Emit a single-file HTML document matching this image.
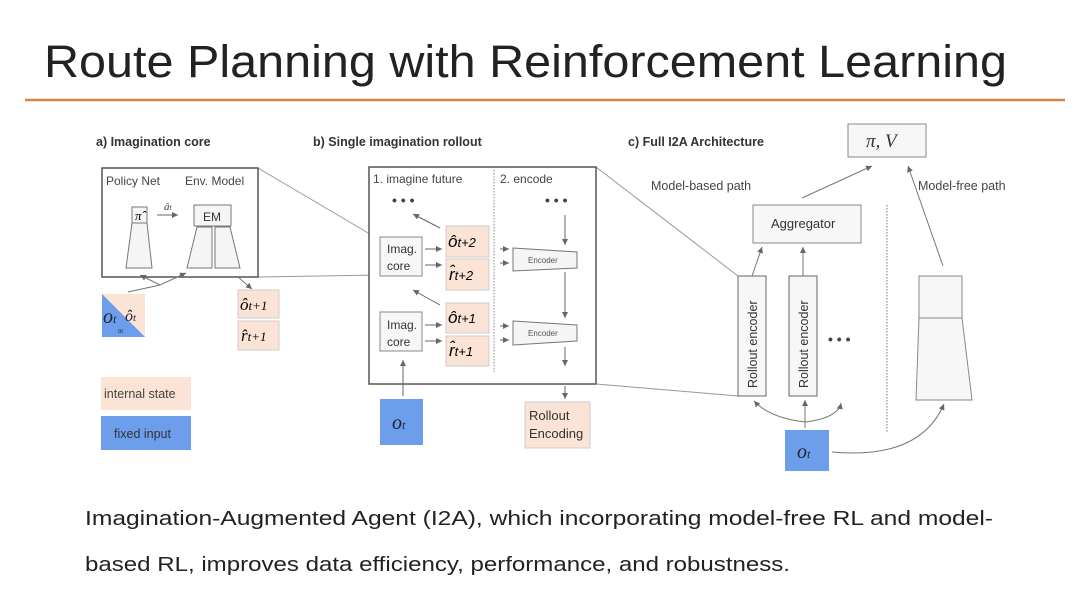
<!DOCTYPE html>
<html><head><meta charset="utf-8"><style>
body{margin:0;background:#fff;}
svg text{font-family:"Liberation Sans",sans-serif;}
.m{font-family:"Liberation Serif",serif;font-style:italic;}
</style></head><body>
<svg width="1080" height="607" viewBox="0 0 1080 607" xmlns="http://www.w3.org/2000/svg">
<defs>
<marker id="ar" markerWidth="8" markerHeight="8" refX="6" refY="3" orient="auto" markerUnits="userSpaceOnUse"><path d="M0,0 L6,3 L0,6z" fill="#666"/></marker>
</defs>
<rect width="1080" height="607" fill="#fff"/>
<text x="44" y="77" font-size="45" fill="#222" textLength="963" lengthAdjust="spacingAndGlyphs">Route Planning with Reinforcement Learning</text>
<line x1="25" y1="100" x2="1065" y2="100" stroke="#d9823f" stroke-width="2.5"/>

<g fill="#333" font-size="12.5" font-weight="bold">
<text x="96" y="146">a) Imagination core</text>
<text x="313" y="146">b) Single imagination rollout</text>
<text x="628" y="146">c) Full I2A Architecture</text>
</g>

<line x1="258" y1="168" x2="380" y2="240" stroke="#999" stroke-width="1"/>
<line x1="258" y1="277" x2="380" y2="275" stroke="#999" stroke-width="1"/>
<line x1="596" y1="167" x2="738" y2="276" stroke="#999" stroke-width="1"/>
<line x1="596" y1="384" x2="738" y2="396" stroke="#999" stroke-width="1"/>

<!-- panel a -->
<rect x="102" y="168" width="156" height="109" fill="#fff" stroke="#555" stroke-width="1.5"/>
<text x="106" y="185" font-size="12" fill="#444">Policy Net</text>
<text x="185" y="185" font-size="12" fill="#444">Env. Model</text>
<rect x="132" y="207" width="15" height="16" fill="#f5f5f5" stroke="#777"/>
<text x="135" y="220" class="m" font-size="13">π̂</text>
<path d="M132,223 L147,223 L152,268 L126,268 Z" fill="#f5f5f5" stroke="#777"/>
<line x1="157" y1="215" x2="178" y2="215" stroke="#666" marker-end="url(#ar)"/>
<text x="164" y="210" class="m" font-size="11" fill="#444">â<tspan font-size="8">t</tspan></text>
<rect x="194" y="205" width="37" height="21" fill="#f5f5f5" stroke="#777"/>
<text x="203" y="221" font-size="12" fill="#333">EM</text>
<path d="M197,227 L212,227 L212,268 L187,268 Z" fill="#f5f5f5" stroke="#777"/>
<path d="M215,227 L230,227 L240,268 L215,268 Z" fill="#f5f5f5" stroke="#777"/>
<path d="M128,292 L160,285 L186,273" fill="none" stroke="#777" marker-end="url(#ar)"/>
<path d="M160,285 L140,275" fill="none" stroke="#777" marker-end="url(#ar)"/>
<line x1="238" y1="277" x2="252" y2="289" stroke="#777" marker-end="url(#ar)"/>
<path d="M102,294 L145,294 L145,337 L102,337Z" fill="#fbe3d5"/>
<path d="M102,294 L145,337 L102,337Z" fill="#6d9eeb"/>
<text x="103" y="323" class="m" font-size="20" fill="#223">o<tspan font-size="12">t</tspan></text>
<text x="125" y="321" class="m" font-size="16" fill="#223">ô<tspan font-size="11">t</tspan></text>
<text x="118" y="333" font-size="6" fill="#223">or</text>
<rect x="238" y="290" width="41" height="28" fill="#fbe3d5" stroke="#ccc"/>
<text x="240" y="310" class="m" font-size="17">ô<tspan font-size="13">t+1</tspan></text>
<rect x="238" y="321" width="41" height="29" fill="#fbe3d5" stroke="#ccc"/>
<text x="241" y="341" class="m" font-size="17">r̂<tspan font-size="13">t+1</tspan></text>
<rect x="101" y="377" width="90" height="33" fill="#fbe3d5"/>
<text x="104" y="398" font-size="12.5" fill="#444">internal state</text>
<rect x="101" y="416" width="90" height="34" fill="#6d9eeb"/>
<text x="114" y="438" font-size="12.5" fill="#333">fixed input</text>

<!-- panel b -->
<rect x="369" y="167" width="227" height="217" fill="#fff" stroke="#555" stroke-width="1.5"/>
<line x1="494" y1="170" x2="494" y2="372" stroke="#888" stroke-dasharray="1.5,1.5"/>
<text x="373" y="183" font-size="12" fill="#444">1. imagine future</text>
<text x="500" y="183" font-size="12" fill="#444">2. encode</text>
<text x="392" y="205" font-size="14" font-weight="bold" fill="#444">• • •</text>
<text x="545" y="205" font-size="14" font-weight="bold" fill="#444">• • •</text>
<g fill="#f7f7f7" stroke="#888">
<rect x="380" y="237" width="42" height="39"/>
<rect x="380" y="312" width="42" height="39"/>
</g>
<g font-size="12" fill="#333">
<text x="387" y="253">Imag.</text><text x="387" y="270">core</text>
<text x="387" y="329">Imag.</text><text x="387" y="346">core</text>
</g>
<g fill="#fbe3d5" stroke="#ccc">
<rect x="446" y="226" width="43" height="31"/>
<rect x="446" y="259" width="43" height="31"/>
<rect x="446" y="303" width="43" height="30"/>
<rect x="446" y="336" width="43" height="30"/>
</g>
<g class="m" font-size="17">
<text x="448" y="247">ô<tspan font-size="13">t+2</tspan></text>
<text x="449" y="280">r̂<tspan font-size="13">t+2</tspan></text>
<text x="448" y="323">ô<tspan font-size="13">t+1</tspan></text>
<text x="449" y="356">r̂<tspan font-size="13">t+1</tspan></text>
</g>
<g stroke="#666" marker-end="url(#ar)">
<line x1="425" y1="249" x2="442" y2="249"/>
<line x1="425" y1="265" x2="442" y2="265"/>
<line x1="425" y1="325" x2="442" y2="325"/>
<line x1="425" y1="341" x2="442" y2="341"/>
<line x1="440" y1="228" x2="413" y2="214"/>
<line x1="440" y1="305" x2="413" y2="290"/>
<line x1="500" y1="249" x2="509" y2="249"/>
<line x1="500" y1="263" x2="509" y2="263"/>
<line x1="500" y1="326" x2="509" y2="326"/>
<line x1="500" y1="340" x2="509" y2="340"/>
<line x1="565" y1="215" x2="565" y2="245"/>
<line x1="565" y1="272" x2="565" y2="318"/>
<line x1="565" y1="347" x2="565" y2="366"/>
<line x1="565" y1="386" x2="565" y2="399"/>
<line x1="403" y1="396" x2="403" y2="360"/>
</g>
<path d="M513,248 L577,252 L577,268 L513,271Z" fill="#f5f5f5" stroke="#777"/>
<path d="M513,321 L577,325 L577,341 L513,345Z" fill="#f5f5f5" stroke="#777"/>
<text x="528" y="263" font-size="8" fill="#555">Encoder</text>
<text x="528" y="336" font-size="8" fill="#555">Encoder</text>
<rect x="525" y="402" width="65" height="46" fill="#fbe3d5" stroke="#ccc"/>
<text x="529" y="420" font-size="13" fill="#333">Rollout</text>
<text x="529" y="438" font-size="13" fill="#333">Encoding</text>
<rect x="380" y="399" width="43" height="46" fill="#6d9eeb"/>
<text x="392" y="429" class="m" font-size="20" fill="#223">o<tspan font-size="12">t</tspan></text>

<!-- panel c -->
<rect x="848" y="124" width="78" height="33" fill="#f7f7f7" stroke="#888"/>
<text x="866" y="147" class="m" font-size="19" fill="#333">π, V</text>
<text x="651" y="190" font-size="12.5" fill="#444">Model-based path</text>
<text x="918" y="190" font-size="12.5" fill="#444">Model-free path</text>
<rect x="753" y="205" width="108" height="38" fill="#f7f7f7" stroke="#888"/>
<text x="771" y="228" font-size="13" fill="#333">Aggregator</text>
<rect x="738" y="276" width="28" height="120" fill="#f7f7f7" stroke="#666"/>
<rect x="789" y="276" width="28" height="120" fill="#f7f7f7" stroke="#666"/>
<text transform="translate(757,388) rotate(-90)" font-size="12.5" fill="#333">Rollout encoder</text>
<text transform="translate(808,388) rotate(-90)" font-size="12.5" fill="#333">Rollout encoder</text>
<text x="828" y="344" font-size="14" font-weight="bold" fill="#444">• • •</text>
<line x1="887" y1="205" x2="887" y2="432" stroke="#777" stroke-dasharray="1.5,1.5"/>
<rect x="919" y="276" width="43" height="42" fill="#f7f7f7" stroke="#888"/>
<path d="M919,318 L962,318 L972,400 L916,400Z" fill="#f7f7f7" stroke="#888"/>
<rect x="785" y="430" width="44" height="41" fill="#6d9eeb"/>
<text x="797" y="458" class="m" font-size="20" fill="#223">o<tspan font-size="12">t</tspan></text>
<g stroke="#777" fill="none" marker-end="url(#ar)">
<line x1="802" y1="198" x2="872" y2="166"/>
<line x1="943" y1="266" x2="908" y2="166"/>
<line x1="752" y1="276" x2="762" y2="247"/>
<line x1="803" y1="276" x2="803" y2="247"/>
<line x1="805" y1="428" x2="805" y2="400"/>
<path d="M805,422 Q770,418 754,401"/>
<path d="M805,422 Q838,418 841,403"/>
<path d="M832,452 Q920,460 944,404"/>
</g>

<text x="85" y="525" font-size="20" fill="#222" textLength="908" lengthAdjust="spacingAndGlyphs">Imagination-Augmented Agent (I2A), which incorporating model-free RL and model-</text>
<text x="85" y="571" font-size="20" fill="#222" textLength="705" lengthAdjust="spacingAndGlyphs">based RL, improves data efficiency, performance, and robustness.</text>
</svg>
</body></html>
